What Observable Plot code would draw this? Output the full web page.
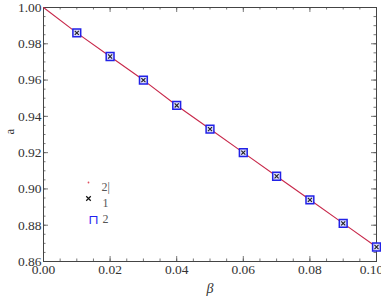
<!DOCTYPE html>
<html>
<head>
<meta charset="utf-8">
<script src="https://cdn.jsdelivr.net/npm/d3@7"></script>
<script src="https://cdn.jsdelivr.net/npm/@observablehq/plot@0.6"></script>
<style>
  body { margin: 0; background: #fff; }
</style>
</head>
<body>
<div id="chart"></div>
<script>
// Data
const beta = [0.01, 0.02, 0.03, 0.04, 0.05, 0.06, 0.07, 0.08, 0.09, 0.10];
const aValues = [0.986, 0.973, 0.960, 0.946, 0.933, 0.920, 0.907, 0.894, 0.881, 0.868];
const lineBeta = [0.00, 0.01, 0.02, 0.03, 0.04, 0.05, 0.06, 0.07, 0.08, 0.09, 0.10];
const lineA = [1.000, 0.986, 0.973, 0.960, 0.946, 0.933, 0.920, 0.907, 0.894, 0.881, 0.868];
const xMajor = [0.00, 0.02, 0.04, 0.06, 0.08, 0.10];
const yMajor = [0.86, 0.88, 0.90, 0.92, 0.94, 0.96, 0.98, 1.00];
const legendLabels = ["2|", "1", "2"];

const xMinor = d3.range(0, 21).map(i => i * 0.005);
const yMinor = d3.range(0, 29).map(i => 0.86 + i * 0.005);
const points = beta.map((b, i) => ({b, a: aValues[i]}));
const line = lineBeta.map((b, i) => ({b, a: lineA[i]}));

const W = 381, H = 299, mL = 43, mR = 5, mT = 7, mB = 38;
const fw = W - mL - mR, fh = H - mT - mB;
const isMajorX = v => Math.abs(v / 0.02 - Math.round(v / 0.02)) < 1e-6;
const isMajorY = v => Math.abs((v - 0.86) / 0.02 - Math.round((v - 0.86) / 0.02)) < 1e-6;
const tc = "#555";
const serif = "Liberation Serif";
const fmt = d3.format(".2f");

const chart = Plot.plot({
  width: W, height: H,
  marginLeft: mL, marginRight: mR, marginTop: mT, marginBottom: mB,
  x: {domain: [0, 0.1], axis: null},
  y: {domain: [0.86, 1.0], axis: null},
  style: {fontFamily: serif, fontSize: "13px", color: "#333"},
  marks: [
    // inward ticks on all four sides
    Plot.tickX(xMinor, {x: d => d, stroke: tc, insetTop: fh - 2.5, strokeWidth: 0.8}),
    Plot.tickX(xMinor.filter(isMajorX), {x: d => d, stroke: tc, insetTop: fh - 5, strokeWidth: 0.8}),
    Plot.tickX(xMinor, {x: d => d, stroke: tc, insetBottom: fh - 2.5, strokeWidth: 0.8}),
    Plot.tickX(xMinor.filter(isMajorX), {x: d => d, stroke: tc, insetBottom: fh - 5, strokeWidth: 0.8}),
    Plot.tickY(yMinor, {y: d => d, stroke: tc, insetRight: fw - 2.5, strokeWidth: 0.8}),
    Plot.tickY(yMinor.filter(isMajorY), {y: d => d, stroke: tc, insetRight: fw - 5, strokeWidth: 0.8}),
    Plot.tickY(yMinor, {y: d => d, stroke: tc, insetLeft: fw - 2.5, strokeWidth: 0.8}),
    Plot.tickY(yMinor.filter(isMajorY), {y: d => d, stroke: tc, insetLeft: fw - 5, strokeWidth: 0.8}),
    // tick labels
    Plot.text(xMajor.slice(0, -1), {x: d => d, frameAnchor: "bottom", dy: 12, text: d => fmt(d), fill: "#333", fontSize: 13.5, fontFamily: serif, className: "ser"}),
    Plot.text(xMajor.slice(-1), {x: d => d, frameAnchor: "bottom", dy: 12, dx: -5, text: d => fmt(d), fill: "#333", fontSize: 13.5, fontFamily: serif, className: "ser"}),
    Plot.text(yMajor, {y: d => d, frameAnchor: "left", dx: -2, textAnchor: "end", text: d => fmt(d), fill: "#333", fontSize: 13.5, fontFamily: serif, className: "ser"}),
    Plot.frame({stroke: "#444", strokeWidth: 1}),
    Plot.line(line, {x: "b", y: "a", stroke: "#c8284a", strokeWidth: 1.1}),
    Plot.dot(points, {x: "b", y: "a", symbol: "square", r: 4.4, stroke: "#2222e6", strokeWidth: 1.5, fill: "#dcdcff"}),
    Plot.dot(points, {x: "b", y: "a", symbol: "times", r: 2.0, stroke: "#222", strokeWidth: 1.1}),
    // axis labels
    Plot.text(["a"], {frameAnchor: "left", dx: -34, rotate: -90, fill: "#333", fontSize: 13, fontFamily: serif, className: "ser"}),
    Plot.text(["β"], {frameAnchor: "bottom", dy: 31, fill: "#333", fontSize: 14, fontStyle: "italic", fontFamily: serif, className: "ser"}),
    // legend
    Plot.dot([0], {frameAnchor: "top-left", dx: 45, dy: 175, r: 0.9, fill: "#e05060", stroke: null}),
    Plot.text([legendLabels[0]], {frameAnchor: "top-left", dx: 58, dy: 175, textAnchor: "start", fill: "#555", fontSize: 12, fontFamily: serif, className: "ser"}),
    Plot.dot([0], {frameAnchor: "top-left", dx: 45, dy: 191, symbol: "times", r: 2.2, stroke: "#111", strokeWidth: 1.2}),
    Plot.text([legendLabels[1]], {frameAnchor: "top-left", dx: 59, dy: 191, textAnchor: "start", fill: "#555", fontSize: 12, fontFamily: serif, className: "ser"}),
    Plot.text(["⊓"], {frameAnchor: "top-left", dx: 45, dy: 207, fill: "#2020f0", fontSize: 13, fontFamily: "DejaVu Sans"}),
    Plot.text([legendLabels[2]], {frameAnchor: "top-left", dx: 59, dy: 207, textAnchor: "start", fill: "#555", fontSize: 12, fontFamily: serif, className: "ser"})
  ]
});
d3.select(chart).selectAll("g.ser text").style("font-family", "'Liberation Serif', serif");
document.getElementById("chart").appendChild(chart);
</script>
</body>
</html>
